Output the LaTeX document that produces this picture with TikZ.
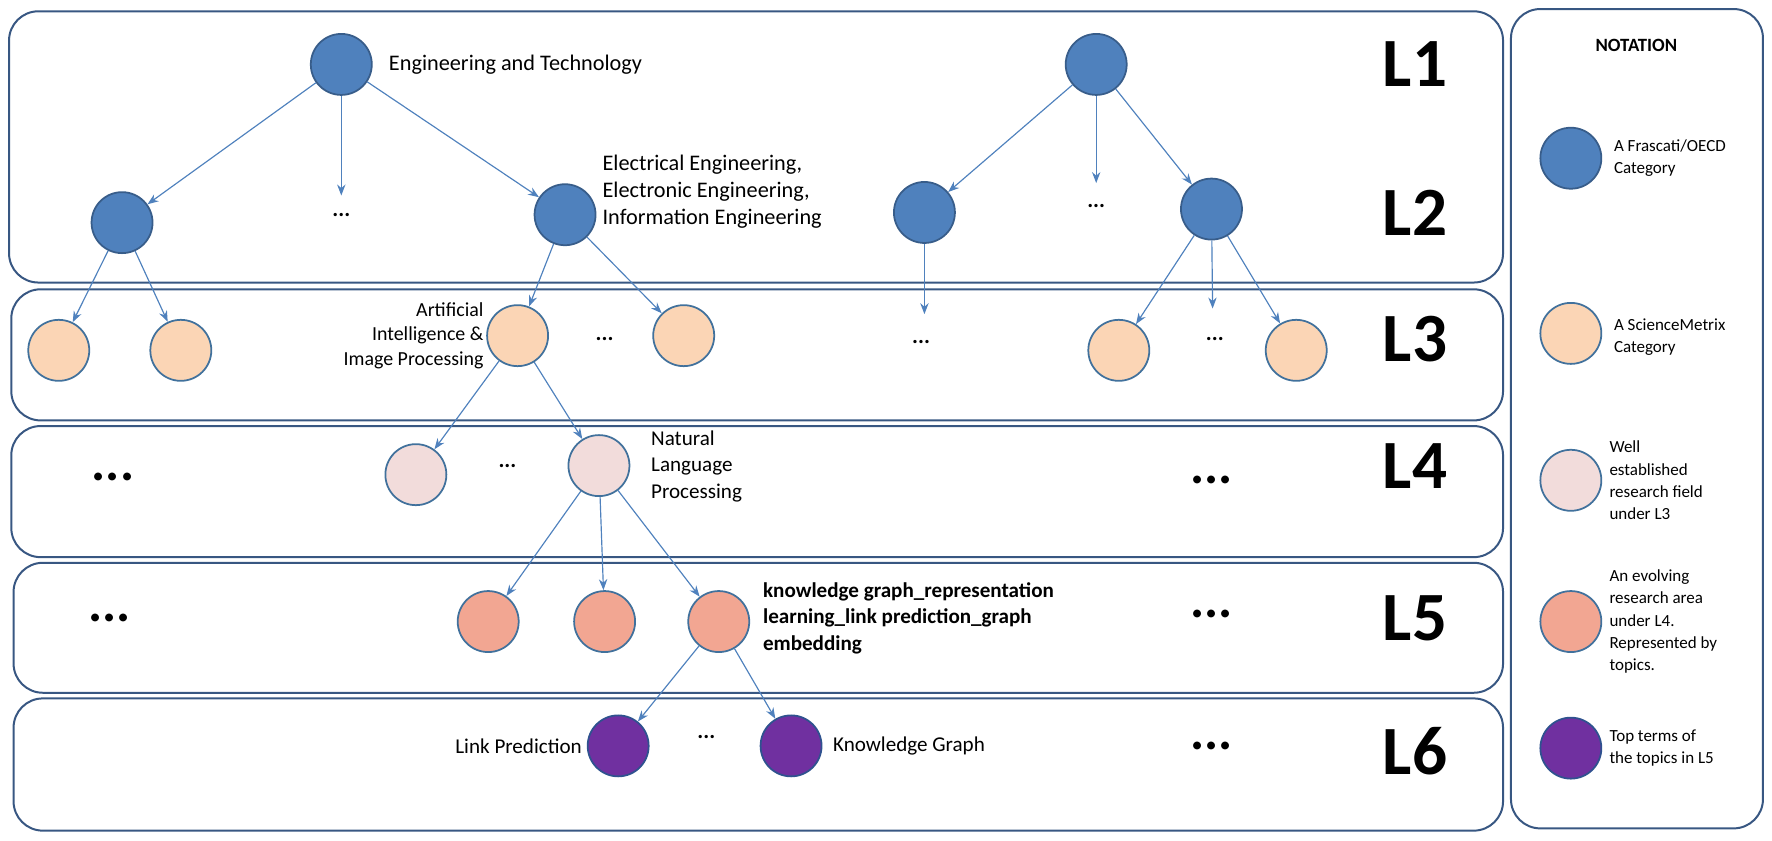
\documentclass[tikz,border=0pt]{standalone}
\usepackage{fontspec}
\setmainfont{Carlito}
\usetikzlibrary{arrows.meta}
\begin{document}
\begin{tikzpicture}[x=0.339mm,y=-0.339mm,
 panel/.style={draw={rgb,255:red,56;green,87;blue,130},line width=1.7pt,rounded corners=25},
 nd/.style={circle,minimum size=18.3mm,inner sep=0pt,line width=1.5pt},
 blue/.style={nd,fill={rgb,255:red,79;green,129;blue,189},draw={rgb,255:red,56;green,93;blue,138}},
 peach/.style={nd,draw={rgb,255:red,65;green,113;blue,156},fill={rgb,255:red,251;green,213;blue,181}},
 pink/.style={nd,draw={rgb,255:red,65;green,113;blue,156},fill={rgb,255:red,242;green,220;blue,219}},
 salmon/.style={nd,draw={rgb,255:red,65;green,113;blue,156},fill={rgb,255:red,242;green,166;blue,146}},
 purp/.style={nd,draw={rgb,255:red,47;green,82;blue,143},fill={rgb,255:red,112;green,48;blue,160}},
 ar/.style={-{Stealth[length=3.3mm,width=2.5mm]},draw={rgb,255:red,79;green,129;blue,189},line width=1pt},
 lab/.style={font=\fontsize{19}{23}\selectfont,align=left,inner sep=0pt},
 nlab/.style={font=\fontsize{14.5}{19}\selectfont,align=left,inner sep=0pt,anchor=west},
 big/.style={font=\fontsize{59}{59}\selectfont\bfseries},
 bd/.style={font=\fontsize{45}{45}\selectfont\bfseries},
 dd/.style={font=\fontsize{19}{23}\selectfont\bfseries}]
\useasboundingbox (0,0) rectangle (1568,744);
\draw[panel] (8,10) rectangle (1330,250);
\draw[panel] (10,256) rectangle (1330,372);
\draw[panel] (10,377) rectangle (1330,493);
\draw[panel] (12,498) rectangle (1330,613);
\draw[panel] (12,618) rectangle (1330,735);
\draw[panel] (1337,8) rectangle (1560,733);
% levels
\foreach \t/\y in {L1/57,L2/188,L3/300,L4/412,L5/547,L6/665} \node[big] at (1252,\y) {\t};
% L1/L2
\node[blue] (a) at (302,57) {};
\node[blue] (b) at (108,197) {};
\node[blue] (c) at (500,190) {};
\coordinate (ad) at (302,173);
\node[dd] at (302,190) {...};
\node[blue] (r) at (970,57) {};
\node[blue] (r1) at (818,188) {};
\node[blue] (r2) at (1072,185) {};
\coordinate (rd) at (970,162);
\node[dd] at (970,182) {...};
\node[lab,anchor=west] at (344,57) {Engineering and Technology};
\node[lab,anchor=west] at (533,170) {Electrical Engineering,\\Electronic Engineering,\\Information Engineering};
% L3
\node[peach] (p1) at (52,310) {};
\node[peach] (p2) at (160,310) {};
\node[peach] (p3) at (458,297) {};
\node[peach] (p4) at (605,297) {};
\node[dd] at (535,300) {...};
\coordinate (rp) at (818,278);
\node[dd] at (815,303) {...};
\node[peach] (p5) at (990,310) {};
\coordinate (rp2) at (1073,273);
\node[dd] at (1075,300) {...};
\node[peach] (p6) at (1147,310) {};
\node[lab,align=right,anchor=east,font=\fontsize{17}{21}\selectfont] at (428,297) {Artificial\\Intelligence \&\\Image Processing};
% L4
\node[pink] (q1) at (368,420) {};
\node[pink] (q2) at (530,412) {};
\node[dd] at (449,412) {...};
\node[bd] at (100,422) {...};
\node[bd] at (1072,425) {...};
\node[lab,anchor=north west,font=\fontsize{18}{22.5}\selectfont] at (576,381) {Natural\\Language\\Processing};
% L5
\node[salmon] (s1) at (432,550) {};
\node[salmon] (s2) at (535,550) {};
\node[salmon] (s3) at (636,550) {};
\node[bd] at (97,547) {...};
\node[bd] at (1072,543) {...};
\node[lab,anchor=west,font=\fontsize{18}{22.5}\selectfont\bfseries] at (675,547) {knowledge graph\_representation\\learning\_link prediction\_graph\\embedding};
% L6
\node[purp] (t1) at (547,660) {};
\node[purp] (t2) at (700,660) {};
\node[dd] at (625,652) {...};
\node[bd] at (1072,660) {...};
\node[lab,anchor=east,font=\fontsize{18}{22}\selectfont] at (515,660) {Link Prediction};
\node[lab,anchor=west,font=\fontsize{18}{22}\selectfont] at (737,660) {Knowledge Graph};
% arrows
\draw[ar] (a) -- (b); \draw[ar] (a) -- (ad); \draw[ar] (a) -- (c);
\draw[ar] (r) -- (r1); \draw[ar] (r) -- (rd); \draw[ar] (r) -- (r2);
\draw[ar] (b) -- (p1); \draw[ar] (b) -- (p2);
\draw[ar] (c) -- (p3); \draw[ar] (c) -- (p4);
\draw[ar] (r1) -- (rp);
\draw[ar] (r2) -- (p5); \draw[ar] (r2) -- (rp2); \draw[ar] (r2) -- (p6);
\draw[ar] (p3) -- (q1); \draw[ar] (p3) -- (q2);
\draw[ar] (q2) -- (s1); \draw[ar] (q2) -- (s2); \draw[ar] (q2) -- (s3);
\draw[ar] (s3) -- (t1); \draw[ar] (s3) -- (t2);
% notation
\node[font=\fontsize{16}{16}\selectfont\bfseries] at (1448,40) {NOTATION};
\node[blue] (n1) at (1390,140) {};
\node[peach] (n2) at (1390,295) {};
\node[pink] (n3) at (1390,425) {};
\node[salmon] (n4) at (1390,550) {};
\node[purp] (n5) at (1390,662) {};
\node[nlab] at (1428,140) {A Frascati/OECD\\Category};
\node[nlab] at (1428,298) {A ScienceMetrix\\Category};
\node[nlab] at (1424,425) {Well\\established\\research field\\under L3};
\node[nlab] at (1424,550) {An evolving\\research area\\under L4.\\Represented by\\topics.};
\node[nlab] at (1424,662) {Top terms of\\the topics in L5};
\end{tikzpicture}
\end{document}
